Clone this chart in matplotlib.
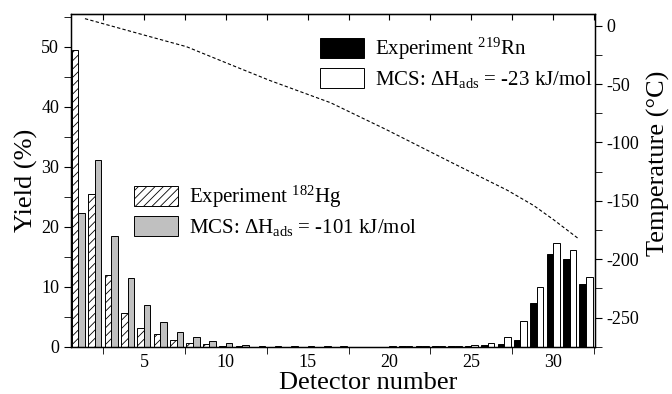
import numpy as np
import matplotlib
matplotlib.use('Agg')
import matplotlib.pyplot as plt
from matplotlib.patches import Patch

plt.rcParams['font.family'] = ['Liberation Serif', 'DejaVu Serif']
plt.rcParams['mathtext.fontset'] = 'custom'
plt.rcParams['mathtext.rm'] = 'Liberation Serif'
plt.rcParams['mathtext.it'] = 'Liberation Serif:italic'
plt.rcParams['axes.unicode_minus'] = False
plt.rcParams['hatch.linewidth'] = 0.6

# номера детекторов
detectors = np.arange(1, 33)

# выход 182Hg: эксперимент и MCS (-101 kJ/mol)
hg_exp = [49.5, 25.4, 11.9, 5.7, 3.2, 2.1, 1.1, 0.7, 0.4, 0.2, 0.05, 0, 0, 0, 0, 0,
          0, 0, 0, 0, 0, 0, 0, 0, 0, 0, 0, 0, 0, 0, 0, 0]
hg_mcs = [22.3, 31.1, 18.4, 11.4, 7.0, 4.2, 2.5, 1.6, 0.95, 0.6, 0.3, 0.15, 0.1, 0.06, 0.05, 0.05,
          0.04, 0.03, 0.03, 0, 0, 0, 0, 0, 0, 0, 0, 0, 0, 0, 0, 0]

# выход 219Rn: эксперимент и MCS (-23 kJ/mol)
rn_exp = [0, 0, 0, 0, 0, 0, 0, 0, 0, 0, 0, 0, 0, 0, 0, 0,
          0, 0, 0, 0.02, 0.04, 0.05, 0.1, 0.12, 0.2, 0.3, 0.4, 1.1, 7.3, 15.4, 14.7, 10.5]
rn_mcs = [0, 0, 0, 0, 0, 0, 0, 0, 0, 0, 0, 0, 0, 0, 0, 0,
          0, 0, 0, 0.04, 0.05, 0.08, 0.12, 0.2, 0.3, 0.7, 1.6, 4.3, 10.0, 17.3, 16.2, 11.6]

# температурный профиль колонки
temp_pos = [1.4, 5.0, 7.6, 10.4, 12.7, 16.4, 19.8, 23.9, 27.2, 28.8, 30.0, 31.5]
temp_val = [6, -8, -18, -34, -47, -66, -89, -118, -141, -154, -166, -182]

fig = plt.figure(figsize=(6.72, 3.94), dpi=100)
ax = fig.add_axes([0.1057, 0.12, 0.7797, 0.8445])
w = 0.4

ax.bar(detectors - w / 2, hg_exp, w, color='white', edgecolor='black', hatch='////', linewidth=0.7)
ax.bar(detectors + w / 2, hg_mcs, w, color='#c0c0c0', edgecolor='black', linewidth=0.7)
ax.bar(detectors - w / 2, rn_exp, w, color='black', edgecolor='black', linewidth=0.7)
ax.bar(detectors + w / 2, rn_mcs, w, color='white', edgecolor='black', linewidth=0.7)

ax.set_xlim(0.55, 32.55)
ax.set_ylim(0, 55.5)
ax.set_xticks([5, 10, 15, 20, 25, 30])
ax.set_xticks(np.arange(2.5, 33, 5), minor=True)
ax.tick_params(axis='x', which='major', length=0, labelsize=13, pad=5)
ax.tick_params(axis='x', which='minor', length=5, direction='out')
ax.set_yticks(np.arange(0, 51, 10))
ax.set_yticks(np.arange(5, 56, 10), minor=True)
ax.tick_params(axis='y', which='both', length=5, direction='out', labelsize=13)
ax.set_xlabel('Detector number', fontsize=19, labelpad=-2)
ax.xaxis.set_label_coords(0.567, -0.075)
ax.set_ylabel('Yield (%)', fontsize=19, labelpad=2)

top = ax.secondary_xaxis('top')
top.set_xticks(np.arange(2.5, 33, 2.5))
top.tick_params(direction='in', length=4, labeltop=False)

ax2 = ax.twinx()
ax2.plot(temp_pos, temp_val, color='black', linestyle=(0, (3, 2)), linewidth=0.8)
ax2.set_ylim(-275, 10)
ax2.set_yticks(np.arange(-250, 1, 50))
ax2.set_yticks(np.arange(-275, 1, 25), minor=True)
ax2.tick_params(axis='y', which='both', length=5, direction='out', labelsize=13)
ax2.set_ylabel('Temperature (°C)', fontsize=19)
ax2.yaxis.set_label_coords(1.10, 0.55)

for s in ['top', 'right', 'left', 'bottom']:
    ax.spines[s].set_linewidth(1.0)

rn_handles = [Patch(facecolor='black', edgecolor='black', linewidth=0.7),
              Patch(facecolor='white', edgecolor='black', linewidth=0.7)]
rn_labels = [r'Experiment $^{219}$Rn', r'MCS: $\Delta$H$_{\mathrm{ads}}$ = -23 kJ/mol']
leg1 = ax2.legend(rn_handles, rn_labels, loc='upper left', bbox_to_anchor=(0.475, 0.935),
                  frameon=False, fontsize=15, handlelength=2.1, handleheight=1.1,
                  labelspacing=0.3, handletextpad=0.55, borderaxespad=0, borderpad=0)
ax2.add_artist(leg1)

hg_handles = [Patch(facecolor='white', edgecolor='black', hatch='////', linewidth=0.7),
              Patch(facecolor='#c0c0c0', edgecolor='black', linewidth=0.7)]
hg_labels = [r'Experiment $^{182}$Hg', r'MCS: $\Delta$H$_{\mathrm{ads}}$ = -101 kJ/mol']
ax2.legend(hg_handles, hg_labels, loc='upper left', bbox_to_anchor=(0.12, 0.49),
           frameon=False, fontsize=15, handlelength=2.1, handleheight=1.1,
           labelspacing=0.3, handletextpad=0.55, borderaxespad=0, borderpad=0)

fig.savefig('out.png', dpi=100)
